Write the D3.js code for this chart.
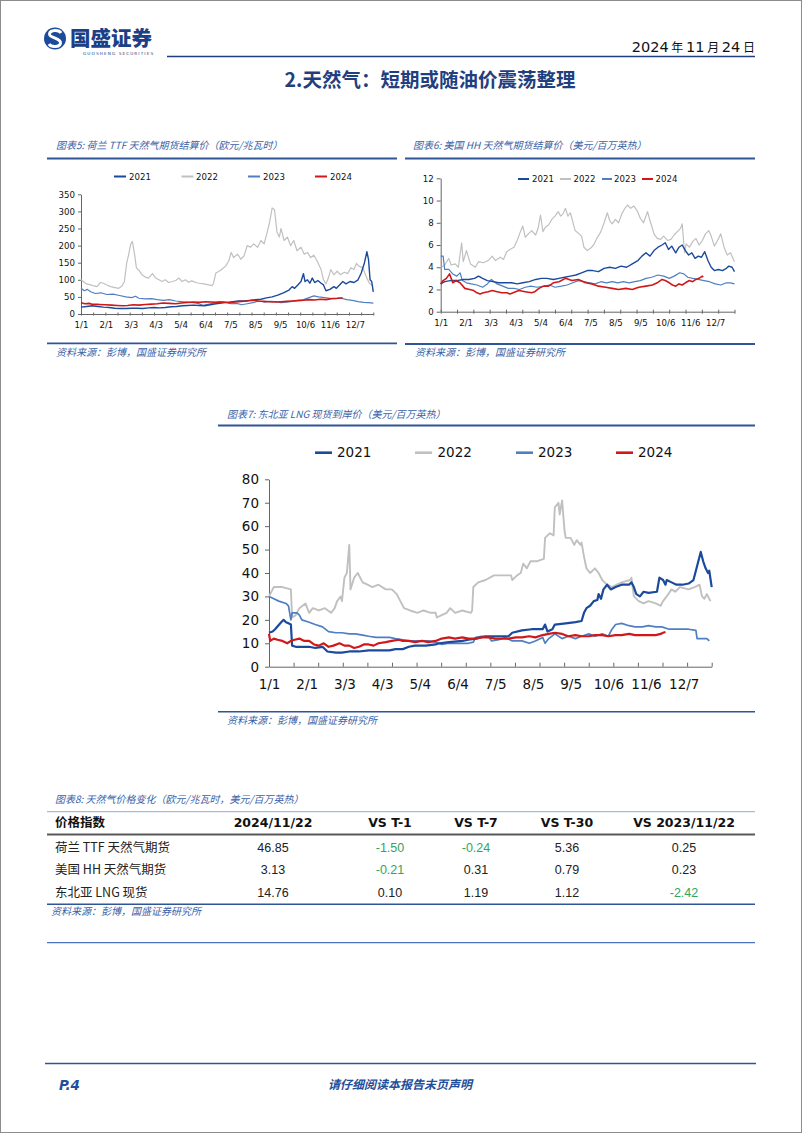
<!DOCTYPE html>
<html><head><meta charset="utf-8">
<script src="https://cdn.jsdelivr.net/npm/d3@7"></script>
<style>body{margin:0;background:#fff}svg{display:block}</style>
</head><body><svg id="page" width="802" height="1133"></svg>
<script>
// ---------------- DATA ----------------
const seriesNames = ["2021", "2022", "2023", "2024"];
const xTickLabels = ["1/1","2/1","3/3","4/3","5/4","6/4","7/5","8/5","9/5","10/6","11/6","12/7"];
const xTickDays   = [0, 31, 62, 93, 124, 155, 186, 217, 248, 279, 310, 341];

// Chart 5: TTF (EUR/MWh), [day of year, value]
const ttf2021 = [[0,20],[7,22],[14,24],[21,22],[28,20],[35,19],[42,17],[49,16],[56,16],[63,17],[70,17],[77,16],[84,18],[91,19],[98,18],[105,19],[112,21],[119,22],[126,24],[133,25],[140,26],[147,25],[154,24],[161,27],[168,30],[175,32],[182,34],[189,36],[196,38],[203,38],[210,40],[217,42],[224,43],[231,47],[238,50],[245,55],[252,62],[259,70],[263,80],[266,75],[270,85],[274,95],[277,118],[279,95],[282,100],[285,90],[288,105],[291,92],[295,98],[299,90],[302,85],[305,68],[310,72],[315,80],[318,75],[322,85],[326,95],[330,88],[335,95],[340,92],[345,100],[349,120],[353,150],[356,182],[358,160],[360,100],[362,95],[364,65]];
const ttf2022 = [[0,100],[3,95],[7,88],[12,85],[16,82],[20,80],[24,92],[28,90],[32,85],[37,80],[41,78],[47,75],[51,82],[54,95],[57,150],[59,170],[62,205],[64,212],[67,170],[69,135],[72,128],[76,115],[80,108],[84,105],[89,118],[93,105],[97,100],[101,95],[105,100],[109,92],[114,95],[118,98],[122,105],[126,95],[130,100],[134,93],[138,97],[143,92],[147,90],[153,88],[159,85],[163,83],[165,90],[168,120],[174,128],[180,140],[184,155],[187,180],[190,165],[195,175],[199,160],[203,170],[207,200],[211,195],[215,205],[220,195],[224,215],[228,205],[232,240],[235,270],[238,310],[241,305],[244,240],[247,225],[249,250],[253,215],[257,225],[261,200],[265,215],[269,185],[274,195],[278,175],[282,180],[286,165],[290,172],[294,155],[299,130],[302,100],[305,88],[308,105],[311,130],[315,115],[319,125],[323,115],[328,122],[332,118],[336,135],[340,130],[343,148],[346,140],[351,135],[355,110],[359,90],[364,82]];
const ttf2023 = [[0,75],[4,68],[8,72],[12,65],[18,60],[25,62],[32,57],[40,58],[48,54],[56,50],[63,48],[68,52],[72,46],[80,44],[88,45],[95,42],[103,40],[110,42],[118,38],[125,36],[133,34],[140,33],[147,30],[152,25],[158,28],[165,32],[172,36],[180,34],[187,30],[194,31],[200,27],[207,30],[214,33],[221,38],[228,35],[235,37],[242,36],[249,33],[256,35],[263,37],[270,40],[277,42],[284,48],[290,53],[296,50],[303,48],[310,46],[317,45],[324,46],[331,42],[338,40],[345,36],[352,34],[358,33],[364,32]];
const ttf2024 = [[0,33],[5,30],[10,31],[15,28],[22,28],[30,27],[38,26],[45,25],[52,24],[58,25],[65,27],[72,26],[80,28],[88,29],[95,30],[102,32],[110,31],[118,30],[125,32],[132,34],[140,35],[147,34],[155,36],[162,35],[170,34],[177,35],[185,33],[192,35],[200,37],[207,38],[214,40],[221,38],[228,37],[235,36],[242,35],[249,36],[256,37],[263,38],[270,39],[277,40],[284,42],[291,41],[298,43],[305,42],[312,45],[319,46],[322,47],[326,47]];
const ttfTicks = [0, 50, 100, 150, 200, 250, 300, 350];

// Chart 6: Henry Hub (USD/MMBtu)
const hh2021 = [[0,2.5],[5,2.7],[12,2.8],[20,2.8],[28,2.9],[35,2.9],[42,3.0],[47,3.2],[52,3.0],[58,2.8],[65,2.7],[72,2.6],[80,2.6],[88,2.6],[95,2.5],[102,2.6],[110,2.7],[118,2.9],[125,3.0],[132,3.0],[140,2.9],[147,3.0],[154,3.1],[161,3.2],[168,3.3],[175,3.5],[182,3.7],[189,3.7],[196,3.6],[203,3.9],[210,4.0],[217,3.9],[224,4.1],[231,4.0],[238,4.3],[245,4.6],[250,5.0],[255,5.3],[260,5.0],[265,5.5],[270,5.8],[275,6.0],[279,6.2],[283,5.6],[287,5.9],[292,5.3],[296,5.8],[300,6.0],[304,5.5],[308,5.1],[312,5.3],[316,4.8],[320,5.0],[324,4.9],[328,5.4],[332,4.6],[336,4.0],[340,3.7],[345,3.8],[350,3.7],[355,3.9],[358,4.1],[362,4.0],[365,3.6]];
const hh2022 = [[1,4.0],[5,4.2],[10,4.8],[13,4.2],[18,4.3],[22,4.0],[26,6.2],[28,4.5],[32,5.5],[37,4.3],[43,4.0],[47,4.5],[53,4.4],[59,4.6],[64,5.0],[68,4.6],[74,4.9],[78,4.7],[82,5.4],[86,5.6],[91,5.8],[95,6.4],[99,7.2],[102,7.7],[105,6.7],[109,7.0],[113,7.3],[118,6.9],[121,7.5],[124,8.7],[127,7.2],[130,7.6],[134,7.8],[138,8.3],[142,8.6],[146,9.0],[149,8.6],[152,8.8],[155,9.3],[158,8.6],[161,8.9],[163,8.4],[167,7.3],[172,7.0],[175,6.8],[178,5.8],[182,5.5],[186,5.7],[190,6.0],[194,6.6],[199,7.2],[203,8.0],[207,8.9],[210,8.2],[213,7.9],[217,8.3],[221,8.0],[225,8.8],[228,9.2],[232,9.6],[236,9.3],[240,9.5],[244,9.1],[248,8.4],[252,8.0],[257,9.0],[260,8.2],[265,7.0],[269,6.6],[273,6.5],[277,6.8],[282,6.4],[286,6.5],[290,6.9],[294,7.2],[298,7.5],[300,7.9],[303,5.3],[305,6.1],[309,5.8],[313,6.3],[317,6.6],[321,6.0],[325,6.4],[329,7.0],[333,7.3],[336,6.8],[340,5.9],[344,6.4],[348,7.0],[352,5.8],[356,5.1],[360,5.3],[365,4.5]];
const hh2023 = [[0,5.0],[3,5.0],[5,3.8],[10,3.8],[15,3.4],[20,3.2],[24,3.5],[27,2.8],[32,2.6],[38,2.5],[45,2.4],[52,2.2],[58,2.5],[63,2.9],[70,2.5],[77,2.3],[84,2.1],[91,2.1],[98,2.0],[105,2.2],[112,2.3],[120,2.2],[128,2.3],[135,2.4],[142,2.2],[150,2.3],[157,2.4],[164,2.6],[171,2.8],[178,2.7],[185,2.6],[192,2.5],[199,2.7],[206,2.6],[213,2.7],[220,2.6],[227,2.7],[234,2.6],[241,2.7],[248,2.8],[255,3.0],[262,3.1],[270,3.3],[277,3.2],[284,3.0],[290,3.2],[297,3.5],[302,3.4],[307,3.1],[313,3.0],[320,2.9],[327,2.8],[334,2.7],[341,2.5],[348,2.4],[355,2.6],[360,2.6],[365,2.5]];
const hh2024 = [[0,2.5],[3,2.8],[7,3.0],[11,3.4],[15,2.6],[19,2.8],[24,2.6],[30,2.1],[36,2.0],[41,1.9],[45,1.7],[49,1.6],[53,1.7],[59,1.8],[64,1.9],[70,1.8],[76,1.7],[82,1.7],[86,1.6],[93,1.8],[97,1.9],[105,1.8],[113,1.7],[117,1.8],[122,2.1],[128,2.3],[134,2.3],[140,2.6],[147,2.7],[155,3.0],[163,2.8],[171,2.9],[180,2.6],[188,2.5],[196,2.3],[205,2.2],[213,2.1],[221,2.0],[230,2.1],[238,2.0],[246,2.2],[255,2.3],[263,2.4],[269,2.6],[275,2.9],[279,2.8],[284,2.6],[288,2.4],[292,2.3],[296,2.5],[300,2.4],[304,2.6],[309,2.8],[313,2.7],[317,2.9],[321,3.0],[325,3.2],[326,3.1]];
const hhTicks = [0, 2, 4, 6, 8, 10, 12];

// Chart 7: NE Asia LNG spot (USD/MMBtu)
const lng2021 = [[0,14.5],[3,15],[5,16],[10,19],[12,20],[14,19],[16,18.5],[18,18],[19,9],[22,8.5],[27,8.5],[33,8.5],[38,8],[44,8.5],[47,7],[48,6.5],[55,6],[60,6],[66,6.5],[74,6.5],[82,7],[90,7],[99,7],[104,7.5],[110,7.5],[115,8.5],[120,9],[129,9],[137,9.5],[140,10],[148,10.5],[159,11],[164,11.5],[170,12],[178,13],[186,13],[197,13],[200,14.5],[208,15.5],[216,16],[225,16],[227,18],[229,15],[233,16],[235,18],[244,18.5],[252,19],[257,19.5],[259,23],[261,25],[264,26],[267,28],[270,28.5],[271,31],[273,29],[275,33],[278,35],[281,33],[285,34],[290,35],[296,35],[298,36],[300,34],[302,31],[305,30],[308,32],[312,31.5],[319,32],[321,38],[324,37],[326,35],[327,37],[331,36],[335,35],[340,35],[345,35.5],[349,37],[352,43],[355,49],[357,45],[359,42],[361,40],[362,41],[364,34]];
const lng2022 = [[0,30],[4,34],[11,34],[18,33],[19,21],[22,22],[25,25],[30,27],[33,23],[36,25],[41,24],[46,25],[51,23],[54,25],[56,28],[59,30],[60,28],[62,38],[64,40],[66,52],[67,33],[70,38],[73,40],[77,36],[81,35],[85,34],[90,35],[96,33],[101,33],[105,31],[108,28],[111,25],[116,24],[122,23],[127,24],[133,23],[137,23],[138,21],[142,22],[146,23],[149,25],[153,23],[159,24],[166,23],[167,24],[168,34],[172,36],[178,37],[185,39],[192,39],[199,39],[200,37],[204,39],[207,40],[209,44],[212,42],[215,45],[220,45],[226,46],[227,55],[231,57],[234,56],[235,68],[238,70],[239,65],[241,71],[243,58],[244,55],[248,55],[251,52],[253,54],[256,52],[257,53],[259,47],[261,42],[264,40],[268,42],[271,40],[274,37],[278,35],[282,34],[286,35],[290,36],[297,37],[298,38],[300,30],[304,28],[308,27],[312,28],[318,27],[322,26],[324,28],[327,30],[331,33],[334,32],[338,34],[345,33],[350,34],[354,35],[356,30],[358,29],[360,31],[363,28]];
const lng2023 = [[0,30],[4,29],[8,28],[14,27],[16,26],[18,20],[19,23],[23,23],[25,22],[27,20],[33,19],[38,18],[44,17],[49,15],[55,14.5],[60,14.5],[66,14],[71,14],[77,13.5],[82,13],[88,12.5],[93,12.5],[99,12.5],[104,12],[110,11.5],[115,11],[120,11],[126,11],[131,11],[137,10.5],[142,9.5],[148,10],[153,10],[159,10],[164,10],[168,10.5],[170,12.5],[175,13],[181,12.5],[183,11],[189,11.5],[194,12.5],[200,11],[208,11],[214,10],[219,11],[225,12.5],[227,10],[230,12],[235,14],[241,12],[246,13],[252,12],[257,13],[263,14],[268,13],[274,14],[279,13],[282,16],[285,18],[290,18.5],[296,17.5],[301,17],[307,17],[312,17.5],[318,17],[323,17],[329,16],[334,16],[340,16],[345,16],[351,15.5],[352,12],[356,12],[360,12],[362,11]];
const lng2024 = [[0,14],[1,11],[4,12],[7,11.5],[11,11],[15,10],[18,11],[21,11.5],[25,12],[29,11],[33,11],[37,9.5],[41,9],[45,10],[49,8.5],[53,9],[58,10],[62,9],[66,9],[70,8],[74,8.5],[78,9.5],[82,9.5],[86,9],[90,10],[96,10.5],[101,11],[107,11.5],[110,11],[115,11],[120,10.5],[126,11],[131,10.5],[137,11],[142,12],[148,12.5],[153,12],[159,12.5],[164,12],[170,12],[175,12.5],[181,12.5],[186,12],[192,12],[197,12],[203,12.5],[208,12.5],[214,13],[219,12.5],[225,13.5],[230,14],[235,14.5],[241,14],[246,13],[252,13.5],[257,13],[263,13],[268,13.5],[274,13.5],[279,13],[285,13.5],[290,13.5],[296,14],[301,13.5],[307,13.5],[312,13.5],[318,13.5],[322,14],[324,14.5],[326,14.8]];
const lngTicks = [0, 10, 20, 30, 40, 50, 60, 70, 80];

// Table 8
const tableHeader = ["价格指数", "2024/11/22", "VS T-1", "VS T-7", "VS T-30", "VS 2023/11/22"];
const tableRows = ["荷兰 TTF 天然气期货", "美国 HH 天然气期货", "东北亚 LNG 现货"];
const tableLatest = [46.85, 3.13, 14.76];
const tableT1 = [-1.50, -0.21, 0.10];
const tableT7 = [-0.24, 0.31, 1.19];
const tableT30 = [5.36, 0.79, 1.12];
const tableYoY = [0.25, 0.23, -2.42];

// ---------------- STYLE ----------------
const LAT = "'DejaVu Sans', Verdana, sans-serif";
const CJK = "'Noto Sans CJK SC', 'DejaVu Sans', sans-serif";
const NAVY = "#1f3f7f";
const TBLUE = "#3a62a8";
const LINEBLUE = "#2f5597";
const colors = {"2021": "#1b4a9c", "2022": "#c0c0c0", "2023": "#4f7fc0", "2024": "#d01818"};

const svg = d3.select("#page");
svg.append("rect").attr("x", 0.5).attr("y", 0.5).attr("width", 801).attr("height", 1132)
  .attr("fill", "#fff").attr("stroke", "#8c8c8c");

// ---------------- HEADER ----------------
const logo = svg.append("g");
logo.append("circle").attr("cx", 55).attr("cy", 38.5).attr("r", 11).attr("fill", "#1d4b9b");
logo.append("path").attr("fill", "none").attr("stroke", "#fff").attr("stroke-width", 3)
  .attr("d", "M61,33 C59,29.5 50,29.5 49.5,34 C49,38 61,38 60.5,43 C60,47.5 51,47.5 49,44");
logo.append("text").attr("x", 70).attr("y", 46).attr("font-family", CJK).attr("font-weight", 900)
  .attr("font-size", 20.5).attr("fill", "#1d3f86").text("国盛证券");
logo.append("text").attr("x", 83).attr("y", 55).attr("font-family", LAT).attr("font-size", 4.2)
  .attr("letter-spacing", 1.1).attr("fill", "#1d3f86").text("GUOSHENG SECURITIES");
svg.append("line").attr("x1", 167).attr("x2", 755).attr("y1", 56.5).attr("y2", 56.5)
  .attr("stroke", NAVY).attr("stroke-width", 1.6);
const dateT = svg.append("text").attr("x", 755).attr("y", 52).attr("text-anchor", "end")
  .attr("font-family", LAT).attr("font-size", 14.5).attr("fill", "#111");
[["2024", 14.5], [" 年 ", 12], ["11", 14.5], [" 月 ", 12], ["24", 14.5], [" 日", 12]].forEach(([t, s]) =>
  dateT.append("tspan").attr("font-size", s).attr("font-family", s < 14 ? CJK : LAT).text(t));

svg.append("text").attr("x", 430).attr("y", 87).attr("text-anchor", "middle")
  .attr("font-family", CJK).attr("font-weight", 700).attr("font-size", 19.5).attr("fill", NAVY)
  .text("2.天然气：短期或随油价震荡整理");

// ---------------- helpers ----------------
function titleBlock(x, y, text, lx1, lx2, ly) {
  svg.append("text").attr("x", x).attr("y", y).attr("font-family", CJK).attr("font-style", "italic")
    .attr("font-size", 10).attr("fill", TBLUE).text(text);
  if (lx1 != null) svg.append("line").attr("x1", lx1).attr("x2", lx2).attr("y1", ly).attr("y2", ly)
    .attr("stroke", LINEBLUE).attr("stroke-width", 1.8);
}
function sourceBlock(x, y, lx1, lx2, ly, w) {
  svg.append("line").attr("x1", lx1).attr("x2", lx2).attr("y1", ly).attr("y2", ly)
    .attr("stroke", LINEBLUE).attr("stroke-width", w || 1.8);
  svg.append("text").attr("x", x).attr("y", y).attr("font-family", CJK).attr("font-style", "italic")
    .attr("font-size", 10).attr("fill", TBLUE).text("资料来源：彭博，国盛证券研究所");
}

function drawChart(cfg) {
  const g = svg.append("g");
  const x = d3.scaleLinear().domain([0, cfg.xMax]).range([cfg.x0, cfg.x1]);
  const y = d3.scaleLinear().domain([0, cfg.yMax]).range([cfg.y0, cfg.y1]);

  // y axis
  const ya = g.append("g").attr("transform", `translate(${cfg.x0},0)`)
    .call(d3.axisLeft(y).tickValues(cfg.yTicks).tickSizeInner(cfg.tick).tickSizeOuter(0).tickPadding(cfg.pad));
  ya.select(".domain").attr("stroke", "#666");
  ya.selectAll(".tick line").attr("stroke", "#666");
  ya.selectAll("text").attr("font-family", LAT).attr("font-size", cfg.fs).attr("fill", "#111");

  // x axis: tick marks
  const tickDays = d3.range(0, cfg.nTicks + 1).map(i => i * cfg.xMax / cfg.nTicks);
  const xa = g.append("g").attr("transform", `translate(0,${cfg.y0})`)
    .call(d3.axisBottom(x).tickValues(tickDays).tickFormat("").tickSizeInner(cfg.tick).tickSizeOuter(0));
  xa.select(".domain").attr("stroke", "#666");
  xa.selectAll(".tick line").attr("stroke", "#666").attr("y1", cfg.tickUp ? -cfg.tick : -cfg.tick / 2)
    .attr("y2", cfg.tickUp ? 0 : cfg.tick / 2);
  // x labels
  const xl = g.append("g").attr("transform", `translate(0,${cfg.y0})`)
    .call(d3.axisBottom(x).tickValues(xTickDays).tickFormat((d, i) => xTickLabels[i]).tickSize(0).tickPadding(cfg.xpad));
  xl.select(".domain").remove();
  xl.selectAll("text").attr("font-family", LAT).attr("font-size", cfg.fs).attr("fill", "#111");

  const line = d3.line().x(d => x(d[0])).y(d => y(d[1]));
  const order = ["2022", "2023", "2021", "2024"];
  order.forEach(name => {
    g.append("path").datum(cfg.data[name]).attr("d", line).attr("fill", "none")
      .attr("stroke", colors[name]).attr("stroke-width", cfg.lw[name]).attr("stroke-linejoin", "round");
  });

  // legend
  seriesNames.forEach((name, i) => {
    const L = cfg.legend[i];
    g.append("line").attr("x1", L[0]).attr("x2", L[1]).attr("y1", cfg.legY).attr("y2", cfg.legY)
      .attr("stroke", colors[name]).attr("stroke-width", cfg.legW);
    g.append("text").attr("x", L[2]).attr("y", cfg.legY).attr("dy", "0.35em").attr("font-family", LAT)
      .attr("font-size", cfg.legFs).attr("fill", "#111").text(name);
  });
}

// ---------------- CHART 5 ----------------
titleBlock(56, 149, "图表5:  荷兰 TTF 天然气期货结算价（欧元/兆瓦时）", 47, 397, 158.5);
drawChart({
  x0: 81, x1: 373.3, y0: 314, y1: 194.3, xMax: 364, yMax: 350, yTicks: ttfTicks,
  tick: 3, pad: 3, xpad: 8, fs: 8.6, nTicks: 24,
  data: {"2021": ttf2021, "2022": ttf2022, "2023": ttf2023, "2024": ttf2024},
  lw: {"2021": 1.4, "2022": 1.2, "2023": 1.2, "2024": 1.6},
  legend: [[114, 126, 129], [181.5, 193.5, 196], [248, 260, 263], [315, 327, 330]],
  legY: 176.5, legW: 2, legFs: 8.6
});
sourceBlock(56, 356, 47, 397, 343.3);

// ---------------- CHART 6 ----------------
titleBlock(413, 149, "图表6:  美国 HH 天然气期货结算价（美元/百万英热）", 405, 755, 158.5);
drawChart({
  x0: 440.7, x1: 734.5, y0: 311.7, y1: 178.3, xMax: 365, yMax: 12, yTicks: hhTicks,
  tick: 4, pad: 3, xpad: 8, fs: 8.6, nTicks: 18,
  data: {"2021": hh2021, "2022": hh2022, "2023": hh2023, "2024": hh2024},
  lw: {"2021": 1.4, "2022": 1.2, "2023": 1.2, "2024": 1.6},
  legend: [[518, 529, 532], [560, 571, 573.5], [602, 612, 614], [642, 653, 655.5]],
  legY: 179, legW: 2, legFs: 8.6
});
sourceBlock(415, 356, 405, 755, 344);

// ---------------- CHART 7 ----------------
titleBlock(227, 417.5, "图表7:  东北亚 LNG 现货到岸价（美元/百万英热）", 218, 755, 425.5);
drawChart({
  x0: 269, x1: 711.7, y0: 666.7, y1: 479.3, xMax: 364, yMax: 80, yTicks: lngTicks,
  tick: 4, pad: 6, xpad: 13, fs: 13.5, nTicks: 18, tickUp: true,
  data: {"2021": lng2021, "2022": lng2022, "2023": lng2023, "2024": lng2024},
  lw: {"2021": 2.2, "2022": 1.9, "2023": 1.7, "2024": 2.2},
  legend: [[315, 332, 337], [415, 432, 437.5], [516, 533, 538], [616, 633, 638]],
  legY: 452.7, legW: 2.6, legFs: 13.5
});
sourceBlock(227, 724, 218, 755, 711.7, 1.4);

// ---------------- TABLE 8 ----------------
titleBlock(55, 802.5, "图表8:  天然气价格变化（欧元/兆瓦时，美元/百万英热）");
svg.append("line").attr("x1", 47).attr("x2", 755).attr("y1", 811.7).attr("y2", 811.7)
  .attr("stroke", "#8faadc").attr("stroke-width", 1);
const colX = [55, 273, 390, 476, 567, 684];
const tbl = svg.append("g");
tableHeader.forEach((h, i) => {
  tbl.append("text").attr("x", colX[i]).attr("y", 823).attr("dy", "0.35em")
    .attr("text-anchor", i === 0 ? "start" : "middle")
    .attr("font-family", i === 0 ? CJK : LAT).attr("font-weight", 700)
    .attr("font-size", 12.5).attr("fill", "#111").text(h);
});
svg.append("line").attr("x1", 47).attr("x2", 755).attr("y1", 834.5).attr("y2", 834.5)
  .attr("stroke", "#595959").attr("stroke-width", 2);
const rowY = [847.3, 870, 892.3];
const cols = [tableLatest, tableT1, tableT7, tableT30, tableYoY];
tableRows.forEach((r, ri) => {
  tbl.append("text").attr("x", colX[0]).attr("y", rowY[ri]).attr("dy", "0.35em")
    .attr("font-family", CJK).attr("font-size", 12.5).attr("fill", "#222").text(r);
  cols.forEach((arr, ci) => {
    const v = arr[ri];
    tbl.append("text").attr("x", colX[ci + 1]).attr("y", rowY[ri]).attr("dy", "0.35em")
      .attr("text-anchor", "middle").attr("font-family", "'Liberation Sans', Arial, sans-serif")
      .attr("font-size", 12.5).attr("fill", (ci > 0 && v < 0) ? "#2fa65c" : "#222")
      .text(v.toFixed(2));
  });
});
sourceBlock(51, 914.5, 47, 755, 904.3, 1.5);
svg.append("line").attr("x1", 47).attr("x2", 755).attr("y1", 942.7).attr("y2", 942.7)
  .attr("stroke", "#4a72b8").attr("stroke-width", 1.2);

// ---------------- FOOTER ----------------
svg.append("line").attr("x1", 45).attr("x2", 756).attr("y1", 1063.5).attr("y2", 1063.5)
  .attr("stroke", LINEBLUE).attr("stroke-width", 1.6);
svg.append("text").attr("x", 59).attr("y", 1090).attr("font-family", LAT).attr("font-weight", 700)
  .attr("font-style", "italic").attr("font-size", 13.5).attr("fill", "#1f4e9c").text("P.4");
svg.append("text").attr("x", 400).attr("y", 1089).attr("text-anchor", "middle").attr("font-family", CJK)
  .attr("font-style", "italic").attr("font-weight", 700).attr("font-size", 12).attr("fill", "#1f4e9c")
  .text("请仔细阅读本报告末页声明");
</script></body></html>
